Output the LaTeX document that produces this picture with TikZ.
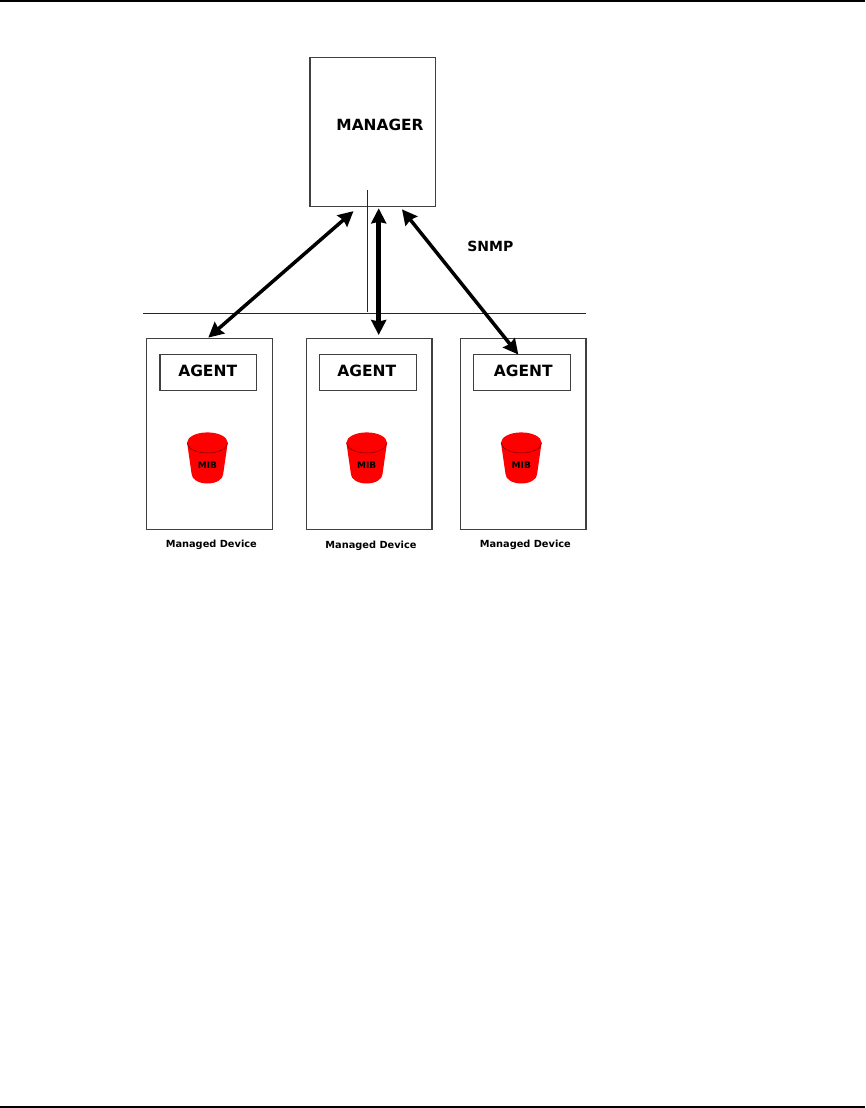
\documentclass[tikz,border=0pt]{standalone}
\usepackage{fontspec}
\setmainfont{DejaVu Sans}
\usetikzlibrary{arrows.meta}
\definecolor{boxgray}{HTML}{404040}
\tikzstyle{box}       = [draw=boxgray,line width=1.2pt,inner sep=0pt,outer sep=0pt]
\tikzstyle{caption}   = [inner sep=0pt,font=\bfseries]
\tikzstyle{arrow}     = [line width=3.5pt,<->,>={Stealth[length=15pt,width=15pt,inset=1.5pt]}]
\tikzstyle{rule}      = [line width=1pt,draw=black!85]
\tikzset{
  mibdrum/.pic={
    \fill[red] (-20.3,-11.8) arc[start angle=180,end angle=0,x radius=20.3,y radius=-10.3]
      -- (15.8,19.5) arc[start angle=0,end angle=-180,x radius=15.8,y radius=-9.5] -- cycle;
    \draw[red!45!black,line width=0.5pt] (-20.3,-11.8) arc[start angle=180,end angle=360,x radius=20.3,y radius=-10.3];
  }
}
\begin{document}
\begin{tikzpicture}[x=1pt,y=-1pt]
  \useasboundingbox (0,0) rectangle (865,1108);

  %page rules
  \coordinate (topleft) at (0,1);
  \coordinate (topright) at (865,1);
  \coordinate (botleft) at (0,1107);
  \coordinate (botright) at (865,1107);
  \draw[line width=2pt] (topleft) -- (topright);
  \draw[line width=2pt] (botleft) -- (botright);

  %put the manager on top
  \node[box,minimum width=125.3pt,minimum height=149.7pt] (manager) at (372.7,132) {};
  \node[caption,font=\bfseries\fontsize{15.4}{18}\selectfont] (managertext) at (380,125) {MANAGER};
  \node[caption,font=\bfseries\fontsize{14}{17}\selectfont] (snmp) at (490.3,246.7) {SNMP};

  %thin lines below the manager
  \coordinate (stemtop) at (367.3,190);
  \coordinate (stembot) at (367.3,311.7);
  \coordinate (busleft) at (143,313.7);
  \coordinate (busright) at (586,313.7);
  \draw[rule] (stemtop) -- (stembot);
  \draw[rule] (busleft) -- (busright);

  %put the devices in a row
  \foreach \i/\dx/\ax/\tx/\mx/\lx/\ly in {1/209.5/208.3/207.7/207.4/211.3/545,2/369.2/368.2/366.7/366.7/371/545.5,3/523.2/522.2/523.3/521.3/525.3/544.7}{
    \node[box,minimum width=125.6pt,minimum height=191.4pt] (dev\i) at (\dx,434) {};
    \node[box,minimum width=96.8pt,minimum height=36pt] (agent\i) at (\ax,372.2) {};
    \node[caption,font=\bfseries\fontsize{15.5}{18}\selectfont] (agenttext\i) at (\tx,370.7) {AGENT};
    \pic at (\mx,454.5) {mibdrum};
    \node[caption,font=\bfseries\fontsize{9}{11}\selectfont] (mib\i) at (\mx,465.7) {MIB};
    \node[caption,font=\bfseries\fontsize{9.8}{12}\selectfont] (label\i) at (\lx,\ly) {Managed Device};
  }

  \draw[arrow] ([xshift=-19.2pt,yshift=-4.3pt]manager.south) -- ([xshift=-1.2pt,yshift=0.7pt]dev1.north);
  \draw[arrow,line width=4.5pt] ([xshift=6pt,yshift=-1.5pt]manager.south) -- ([xshift=9.5pt,yshift=3.3pt]dev2.north);
  \draw[arrow] ([xshift=29.3pt,yshift=-2.5pt]manager.south) -- ([xshift=-3.9pt,yshift=-0.3pt]agent3.north);
\end{tikzpicture}
\end{document}
